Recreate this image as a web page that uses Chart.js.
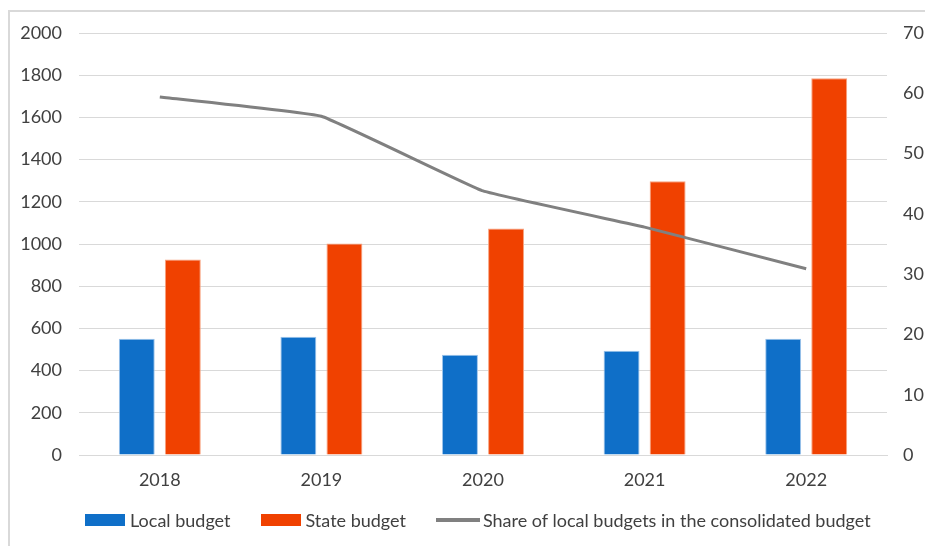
<!DOCTYPE html>
<html>
<head>
<meta charset="utf-8">
<script src="https://cdn.jsdelivr.net/npm/chart.js@4"></script>
<style>
  html, body { margin: 0; padding: 0; background: #fff; }
  #wrap { position: relative; width: 925px; height: 546px; overflow: hidden; }
  #frame { position: absolute; left: 8px; top: 10px; width: 940px; height: 560px;
           border: 2px solid #d9d9d9; box-sizing: border-box; }
  #box { position: absolute; left: 0; top: 0; width: 925px; height: 546px; }
  #legend { position: absolute; left: 85px; top: 509px; display: flex; align-items: center;
            font: 18px Lato, 'Open Sans', sans-serif; color: #404040; white-space: nowrap; }
  .item { display: flex; align-items: center; margin-right: 30px; }
  .swatch { width: 40px; height: 12px; margin-right: 5px; }
  .lineSw { width: 44px; height: 4px; margin-right: 3px; }
</style>
</head>
<body>
<div id="wrap">
  <div id="frame"></div>
  <div id="box"><canvas id="budgetChart"></canvas></div>
  <div id="legend"></div>
</div>
<script>
// years on the x axis
const years = ['2018', '2019', '2020', '2021', '2022'];

// left axis values
const localBudget = [551, 560, 475, 494, 551];
const stateBudget = [926, 1002, 1074, 1297, 1786];

// right axis values (%)
const localShare = [59.4, 56.2, 43.8, 37.8, 30.9];

const textColor = '#404040';
const gridColor = '#d9d9d9';
const fontFam = "Lato, 'Open Sans', sans-serif";
const tickFont = { family: fontFam, size: 18 };

const ctx = document.getElementById('budgetChart');

const chart = new Chart(ctx, {
  data: {
    labels: years,
    datasets: [
      {
        type: 'line',
        label: 'Share of local budgets in the consolidated budget',
        data: localShare,
        yAxisID: 'y2',
        borderColor: '#808080',
        backgroundColor: '#808080',
        borderWidth: 3,
        pointRadius: 0,
        tension: 0.08,
        order: 0
      },
      {
        type: 'bar',
        label: 'Local budget',
        data: localBudget,
        yAxisID: 'y',
        backgroundColor: '#0f6fc8',
        borderColor: '#9cc3ea',
        borderWidth: 1,
        categoryPercentage: 0.57,
        barPercentage: 0.78,
        order: 1
      },
      {
        type: 'bar',
        label: 'State budget',
        data: stateBudget,
        yAxisID: 'y',
        backgroundColor: '#f04100',
        borderColor: '#f7a27f',
        borderWidth: 1,
        categoryPercentage: 0.57,
        barPercentage: 0.78,
        order: 1
      }
    ]
  },
  options: {
    responsive: true,
    maintainAspectRatio: false,
    animation: false,
    layout: { padding: { top: 33, right: 0, bottom: 46, left: 0 } },
    plugins: {
      tooltip: { enabled: false },
      legend: { display: false }
    },
    scales: {
      x: {
        grid: { display: false, drawTicks: false },
        border: { color: gridColor },
        ticks: { color: textColor, font: tickFont, padding: 14 },
        afterFit: s => { s.height = 45; }
      },
      y: {
        position: 'left',
        min: 0, max: 2000,
        ticks: { stepSize: 200, color: textColor, font: tickFont, padding: 17, callback: v => String(v) },
        grid: { color: gridColor, drawTicks: false },
        border: { display: false },
        afterFit: s => { s.width = 79; }
      },
      y2: {
        position: 'right',
        min: 0, max: 70,
        ticks: { stepSize: 10, color: textColor, font: tickFont, padding: 16, callback: v => String(v) },
        grid: { display: false, drawTicks: false },
        border: { display: false },
        afterFit: s => { s.width = 38; }
      }
    }
  }
});

// legend in the same order as the reference: bars first, then the line
const legendEl = document.getElementById('legend');
[1, 2, 0].forEach(i => {
  const ds = chart.data.datasets[i];
  const item = document.createElement('div');
  item.className = 'item';
  const sw = document.createElement('span');
  sw.className = ds.type === 'line' ? 'lineSw' : 'swatch';
  sw.style.background = ds.backgroundColor;
  const txt = document.createElement('span');
  txt.textContent = ds.label;
  item.appendChild(sw);
  item.appendChild(txt);
  legendEl.appendChild(item);
});
</script>
</body>
</html>
